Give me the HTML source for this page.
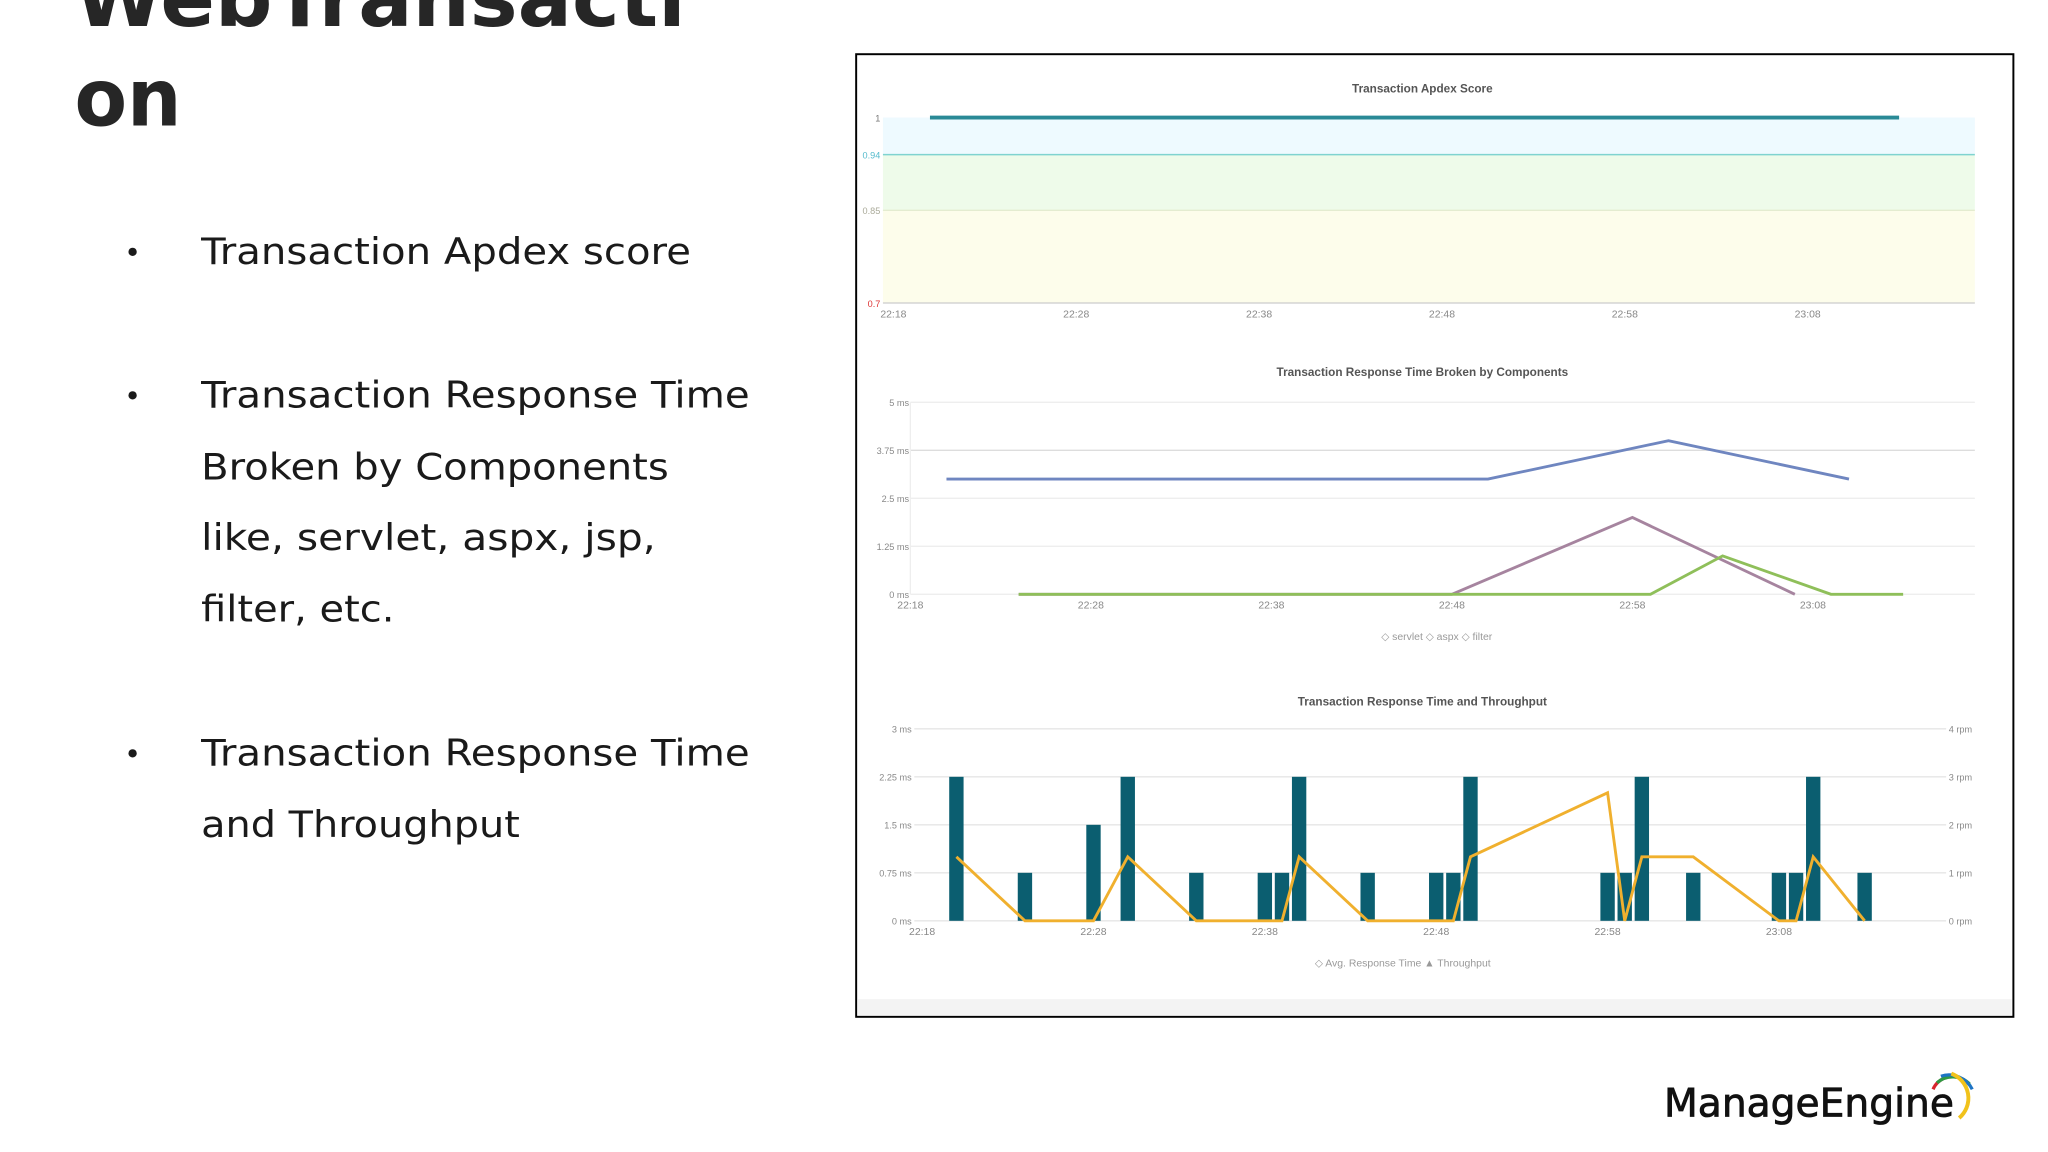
<!DOCTYPE html>
<html><head><meta charset="utf-8"><style>
html,body{margin:0;padding:0;background:#fff;width:2048px;height:1152px;overflow:hidden}
svg{display:block}
</style></head><body>
<svg id="page" width="2048" height="1152" viewBox="0 0 1568 882" preserveAspectRatio="none" xmlns="http://www.w3.org/2000/svg" font-family="Liberation Sans, sans-serif">
<rect width="1568" height="882" fill="#fff"/>
<g font-family="DejaVu Sans, sans-serif" font-weight="bold" font-size="61" fill="#262626">
<text x="57" y="20" textLength="468" lengthAdjust="spacingAndGlyphs">WebTransacti</text>
<text x="57" y="96" textLength="82" lengthAdjust="spacingAndGlyphs">on</text>
</g>
<g font-family="DejaVu Sans, sans-serif" font-size="28" fill="#1a1a1a">
<text x="95" y="201" font-size="22">•</text>
<text x="154" y="202" textLength="375" lengthAdjust="spacingAndGlyphs">Transaction Apdex score</text>
<text x="95" y="311" font-size="22">•</text>
<text x="154" y="312" textLength="420" lengthAdjust="spacingAndGlyphs">Transaction Response Time</text>
<text x="154" y="367" textLength="358" lengthAdjust="spacingAndGlyphs">Broken by Components</text>
<text x="154" y="421" textLength="348" lengthAdjust="spacingAndGlyphs">like, servlet, aspx, jsp,</text>
<text x="154" y="476" textLength="148" lengthAdjust="spacingAndGlyphs">filter, etc.</text>
<text x="95" y="585" font-size="22">•</text>
<text x="154" y="586" textLength="420" lengthAdjust="spacingAndGlyphs">Transaction Response Time</text>
<text x="154" y="641" textLength="244" lengthAdjust="spacingAndGlyphs">and Throughput</text>
</g>
<rect x="655.5" y="41.5" width="886" height="737" fill="#fff" stroke="#000" stroke-width="1.5"/>
<rect x="657" y="765" width="883" height="12" fill="#f3f3f3"/>
<g id="c1"></g>
<g id="c2"></g>
<g id="c3"></g>
<g>
<text x="1274" y="855" font-family="DejaVu Sans, sans-serif" font-size="30" fill="#111" stroke="#111" stroke-width="0.6" textLength="222" lengthAdjust="spacingAndGlyphs">ManageEngine</text>
<path d="M1480 834 A16 16 0 0 1 1505 828" fill="none" stroke="#d8262e" stroke-width="2.5"/>
<path d="M1483 829 A18 18 0 0 1 1508 830" fill="none" stroke="#2e9a44" stroke-width="2.5"/>
<path d="M1486 824 A20 20 0 0 1 1510 834" fill="none" stroke="#1d74c4" stroke-width="2.5"/>
<path d="M1494 822 A20 20 0 0 1 1500 856" fill="none" stroke="#f1c21b" stroke-width="3"/>
</g>
</svg>
<script>
// ---- Chart data ----
const apdexTicks = [1, 0.94, 0.85, 0.7];
const apdexMinutes = [2, 55];
const apdexValues = [1, 1];
const timeLabels = ["22:18","22:28","22:38","22:48","22:58","23:08"];
const compTicks = [0, 1.25, 2.5, 3.75, 5];
const compTickLabels = ["0 ms","1.25 ms","2.5 ms","3.75 ms","5 ms"];
const servletMin = [2, 32, 42, 52];
const servletVal = [3.0, 3.0, 4.0, 3.0];
const aspxMin = [6, 30, 40, 49];
const aspxVal = [0, 0, 2.0, 0];
const filterMin = [6, 41, 45, 51, 55];
const filterVal = [0, 0, 1.0, 0, 0];
const rtTicks = [0, 0.75, 1.5, 2.25, 3];
const rtTickLabels = ["0 ms","0.75 ms","1.5 ms","2.25 ms","3 ms"];
const rpmTicks = [0, 1, 2, 3, 4];
const rpmTickLabels = ["0 rpm","1 rpm","2 rpm","3 rpm","4 rpm"];
const barMin = [2,6,10,12,16,20,21,22,26,30,31,32,40,41,42,45,50,51,52,55];
const barVal = [3,1,2,3,1,1,1,3,1,1,1,3,1,1,3,1,1,1,3,1];
const lineMin = [2,6,10,12,16,21,22,26,30,31,32,40,41,42,45,50,51,52,55];
const lineVal = [1.0,0,0,1.0,0,0,1.0,0,0,0,1.0,2.0,0,1.0,1.0,0,0,1.0,0];

const NS = "http://www.w3.org/2000/svg";
function mk(parent, tag, attrs, txt) {
  const e = document.createElementNS(NS, tag);
  for (const k in attrs) e.setAttribute(k, attrs[k]);
  if (txt !== undefined) e.textContent = txt;
  parent.appendChild(e);
  return e;
}
function lin(d0, d1, r0, r1) { return v => r0 + (v - d0) / (d1 - d0) * (r1 - r0); }

// ---- Chart 1: Apdex ----
(function(){
  const g = document.getElementById('c1');
  const L = 676, R = 1512, T = 90, B = 232;
  const y = lin(0.7, 1, B, T);
  const x = lin(0, 10, 684, 824);
  let t = mk(g, 'text', {x:1089, y:71, 'text-anchor':'middle', 'font-size':9, 'font-weight':'bold', fill:'#555'}, 'Transaction Apdex Score');
  
  
  const bands = [[1,0.94,'#eefaff'],[0.94,0.85,'#eefbea'],[0.85,0.7,'#fdfdeb']];
  bands.forEach(b => {
    const r = mk(g, 'rect', {x:L, y:y(b[0]), width:R-L, height:y(b[1])-y(b[0]), fill:b[2]});
    
    
  });
  mk(g, 'line', {x1:L, x2:R, y1:y(0.94), y2:y(0.94), stroke:'#7fd3d0', 'stroke-width':1.2});
  mk(g, 'line', {x1:L, x2:R, y1:y(0.85), y2:y(0.85), stroke:'#e4ecd0', 'stroke-width':1});
  mk(g, 'line', {x1:L, x2:R, y1:B, y2:B, stroke:'#ccc', 'stroke-width':1});
  const cols = ['#777','#5bc','#aa9','#d33'];
  apdexTicks.forEach((v,i) => {
    const tk = mk(g, 'text', {x:L-2, y:y(v)+3, 'text-anchor':'end', 'font-size':7, fill:cols[i]}, String(v));
    
    
  });
  timeLabels.forEach((s,i) => {
    const tk = mk(g, 'text', {x:x(i*10), y:243, 'text-anchor':'middle', 'font-size':8, fill:'#888'}, s);
    
    
  });
  const p = mk(g, 'polyline', {points: apdexMinutes.map((m,i)=>x(m)+','+y(apdexValues[i])).join(' '), fill:'none', stroke:'#2a8a96', 'stroke-width':3});
  
  
})();

// ---- Chart 2: Components ----
(function(){
  const g = document.getElementById('c2');
  const L = 697, R = 1512, T = 308, B = 455;
  const y = lin(0, 5, B, T);
  const x = lin(0, 10, 697, 835.2);
  let t = mk(g, 'text', {x:1089, y:288, 'text-anchor':'middle', 'font-size':9, 'font-weight':'bold', fill:'#555'}, 'Transaction Response Time Broken by Components');
  
  
  compTicks.forEach((v,i) => {
    mk(g, 'line', {x1:L, x2:R, y1:y(v), y2:y(v), stroke: v===3.75 ? '#ddd' : '#eee', 'stroke-width':1});
    const tk = mk(g, 'text', {x:L-1, y:y(v)+3, 'text-anchor':'end', 'font-size':7, fill:'#888'}, compTickLabels[i]);
    
    
  });
  mk(g, 'line', {x1:L, x2:L, y1:T, y2:B, stroke:'#eee'});
  timeLabels.forEach((s,i) => {
    const tk = mk(g, 'text', {x:x(i*10), y:466, 'text-anchor':'middle', 'font-size':8, fill:'#888'}, s);
    
    
  });
  const series = [[aspxMin, aspxVal, '#a6849f', 'aspx-line'],[filterMin, filterVal, '#8fbf5a', 'filter-line'],[servletMin, servletVal, '#6f86c0', 'servlet-line']];
  series.forEach(s => {
    const p = mk(g, 'polyline', {points: s[0].map((m,i)=>x(m)+','+y(s[1][i])).join(' '), fill:'none', stroke:s[2], 'stroke-width':2.2});
    
    
  });
  const lg = mk(g, 'text', {x:1100, y:490, 'text-anchor':'middle', 'font-size':8, fill:'#999'}, '◇ servlet  ◇ aspx   ◇ filter');
  
  
})();

// ---- Chart 3: Response time & throughput ----
(function(){
  const g = document.getElementById('c3');
  const L = 700, R = 1490, T = 558, B = 705;
  const y = lin(0, 3, B, T);
  const yr = lin(0, 4, B, T);
  const x = lin(0, 10, 706, 837.2);
  let t = mk(g, 'text', {x:1089, y:540, 'text-anchor':'middle', 'font-size':9, 'font-weight':'bold', fill:'#555'}, 'Transaction Response Time and Throughput');
  
  
  rtTicks.forEach((v,i) => {
    mk(g, 'line', {x1:L, x2:R, y1:y(v), y2:y(v), stroke:'#e6e6e6', 'stroke-width':1});
    const tk = mk(g, 'text', {x:L-2, y:y(v)+3, 'text-anchor':'end', 'font-size':7, fill:'#888'}, rtTickLabels[i]);
    
    
  });
  rpmTicks.forEach((v,i) => {
    const tk = mk(g, 'text', {x:R+2, y:yr(v)+3, 'font-size':7, fill:'#888'}, rpmTickLabels[i]);
    
    
  });
  timeLabels.forEach((s,i) => {
    const tk = mk(g, 'text', {x:x(i*10), y:716, 'text-anchor':'middle', 'font-size':8, fill:'#888'}, s);
    
    
  });
  barMin.forEach((m,i) => {
    const b = mk(g, 'rect', {x:x(m)-5.5, y:yr(barVal[i]), width:11, height:B-yr(barVal[i]), fill:'#0b5e70'});
    
    
  });
  const p = mk(g, 'polyline', {points: lineMin.map((m,i)=>x(m)+','+y(lineVal[i])).join(' '), fill:'none', stroke:'#f0b02e', 'stroke-width':2.2});
  
  
  const lg = mk(g, 'text', {x:1074, y:740, 'text-anchor':'middle', 'font-size':8, fill:'#999'}, '◇ Avg. Response Time  ▲ Throughput');
  
  
})();
</script>
</body></html>
